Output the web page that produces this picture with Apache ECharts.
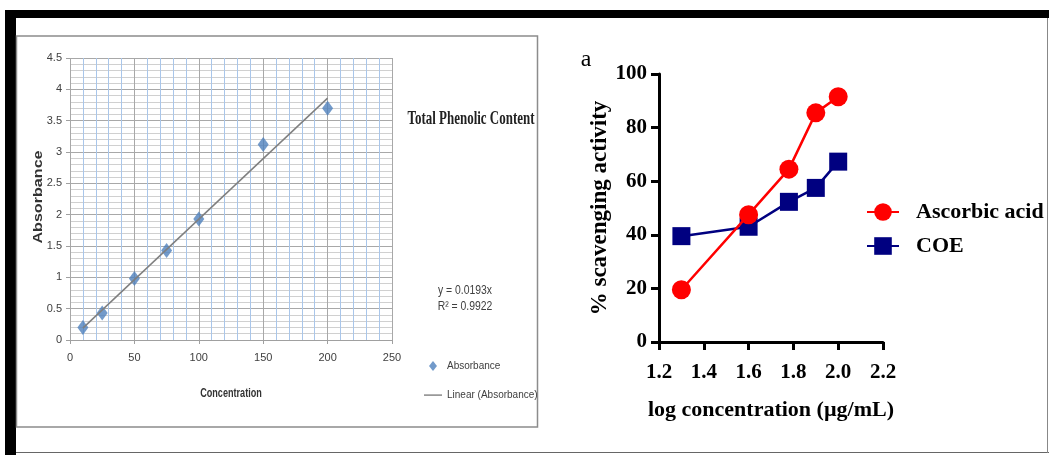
<!DOCTYPE html>
<html><head><meta charset="utf-8">
<script src="https://cdn.jsdelivr.net/npm/echarts@6/dist/echarts.min.js"></script>
<style>html,body{margin:0;padding:0;background:#fff}#c{width:1049px;height:455px}</style>
</head><body><div id="c"></div>
<script>
// Left panel: Total Phenolic Content calibration
const concentration = [10, 25, 50, 75, 100, 150, 200];
const absorbance = [0.2, 0.43, 0.98, 1.43, 1.93, 3.12, 3.7];
const trendX = [10, 200];
const trendY = [0.19, 3.86];
const leftXTicks = [0, 50, 100, 150, 200, 250];
const leftYTicks = [0, 0.5, 1, 1.5, 2, 2.5, 3, 3.5, 4, 4.5];
// Right panel: scavenging activity
const logConc = [1.3, 1.6, 1.78, 1.9, 2.0];
const ascorbic = [19.5, 47.5, 64.5, 85.5, 91.5];
const coe = [39.5, 43, 52.3, 57.5, 67.3];
const rightXTicks = [1.2, 1.4, 1.6, 1.8, 2.0, 2.2];
const rightYTicks = [0, 20, 40, 60, 80, 100];

const sans = "'Liberation Sans',Arial,sans-serif";
const serif = "'Liberation Serif','Times New Roman',serif";

const lineIcon = 'path://M0,0L0,0M0,10L0,10M0,4.4L18,4.4L18,5.8L0,5.8Z';
const diamondIcon = 'path://M0,0L0,0M18,0L18,0M9,0L13,5L9,10L5,5Z';

const chart = echarts.init(document.getElementById('c'));
chart.setOption({
  animation: false,
  backgroundColor: '#fff',
  graphic: [
    {type:'rect', shape:{x:5,y:10,width:1044,height:8}, style:{fill:'#000'}},
    {type:'rect', shape:{x:5,y:10,width:11,height:445}, style:{fill:'#000'}},
    {type:'rect', shape:{x:16,y:452,width:1033,height:1}, style:{fill:'#666'}},
    {type:'rect', shape:{x:1047,y:18,width:1,height:435}, style:{fill:'#888'}},
    {type:'rect', shape:{x:16.5,y:36,width:521,height:391}, style:{fill:'none', stroke:'#8c8c8c', lineWidth:1.5}},
    {type:'text', x:471, y:119, scaleX:0.72, style:{x:0, y:0, text:'Total Phenolic Content', font:"bold 18px "+serif, fill:'#222', align:'center', verticalAlign:'middle'}},
    {type:'text', x:465, y:290, scaleX:0.8, style:{x:0, y:0, text:'y = 0.0193x', font:"13px "+sans, fill:'#404040', align:'center', verticalAlign:'middle'}},
    {type:'text', x:465, y:306, scaleX:0.8, style:{x:0, y:0, text:'R² = 0.9922', font:"13px "+sans, fill:'#404040', align:'center', verticalAlign:'middle'}},
    {type:'text', x:38, y:197, rotation:Math.PI/2, scaleX:1.24, style:{x:0, y:0, text:'Absorbance', font:"bold 13px "+sans, fill:'#333', align:'center', verticalAlign:'middle'}},
    {type:'text', x:231, y:393, scaleX:0.7, style:{x:0, y:0, text:'Concentration', font:"bold 13px "+sans, fill:'#333', align:'center', verticalAlign:'middle'}},
    {type:'text', x:586, y:60, style:{x:0, y:0, text:'a', font:"24px "+serif, fill:'#000', align:'center', verticalAlign:'middle'}}
  ],
  legend: [
    {data:[{name:'Absorbance', icon:diamondIcon}, {name:'Linear (Absorbance)', icon:lineIcon}],
     orient:'vertical', left:419, top:356, itemGap:19, itemWidth:18, itemHeight:10,
     textStyle:{fontFamily:sans, fontSize:10, color:'#404040'}},
    {data:['Ascorbic acid','COE'], orient:'vertical', left:861, top:196, itemGap:12, itemWidth:32, itemHeight:22,
     textStyle:{fontFamily:serif, fontSize:22, fontWeight:'bold', color:'#000', padding:[0,0,0,12], lineHeight:22}}
  ],
  grid: [
    {left:70, right:657, top:58, bottom:115},
    {left:659, right:166, top:74, bottom:113}
  ],
  xAxis: [
    {gridIndex:0, type:'value', min:leftXTicks[0], max:leftXTicks[leftXTicks.length-1], interval:50,
     axisLine:{show:true, lineStyle:{color:'#a0a0a0'}}, axisTick:{show:true, length:4, lineStyle:{color:'#a0a0a0'}},
     axisLabel:{fontFamily:sans, fontSize:11, color:'#404040', margin:12},
     splitLine:{show:true, lineStyle:{color:'#a8a8a8', width:1}},
     minorTick:{show:false, splitNumber:5},
     minorSplitLine:{show:true, lineStyle:{color:'#a9c6ea', width:1}}},
    {gridIndex:1, type:'value', min:rightXTicks[0], max:rightXTicks[rightXTicks.length-1], interval:0.2,
     name:'log concentration (µg/mL)', nameLocation:'middle', nameGap:57,
     nameTextStyle:{fontFamily:serif, fontSize:22, fontWeight:'bold', color:'#000'},
     axisLine:{show:true, onZero:false, lineStyle:{color:'#000', width:3}},
     axisTick:{show:true, length:8, lineStyle:{color:'#000', width:3}},
     axisLabel:{fontFamily:serif, fontSize:21, fontWeight:'bold', color:'#000', margin:20, formatter:v=>v.toFixed(1)},
     splitLine:{show:false}}
  ],
  yAxis: [
    {gridIndex:0, type:'value', min:leftYTicks[0], max:leftYTicks[leftYTicks.length-1], interval:0.5,
     axisLine:{show:false}, axisTick:{show:true, length:4, lineStyle:{color:'#a0a0a0'}},
     axisLabel:{fontFamily:sans, fontSize:11, color:'#404040', margin:8},
     splitLine:{show:true, lineStyle:{color:'#a8a8a8', width:1}},
     minorSplitLine:{show:true, lineStyle:{color:'#d0d0d0', width:1}},
     minorTick:{show:false, splitNumber:5}},
    {gridIndex:1, type:'value', min:rightYTicks[0], max:rightYTicks[rightYTicks.length-1], interval:20,
     name:'% scavenging activity', nameLocation:'middle', nameGap:47, nameRotate:90,
     nameTextStyle:{fontFamily:serif, fontSize:23, fontWeight:'bold', color:'#000'},
     axisLine:{show:true, onZero:false, lineStyle:{color:'#000', width:3}},
     axisTick:{show:true, length:8, lineStyle:{color:'#000', width:3}},
     axisLabel:{fontFamily:serif, fontSize:21, fontWeight:'bold', color:'#000', margin:12},
     splitLine:{show:false}}
  ],
  series: [
    {name:'Linear (Absorbance)', type:'line', xAxisIndex:0, yAxisIndex:0, symbol:'none',
     data: trendX.map((x,i)=>[x, trendY[i]]), lineStyle:{color:'#7f7f7f', width:1.5}, itemStyle:{color:'#7f7f7f'}},
    {name:'Absorbance', type:'scatter', xAxisIndex:0, yAxisIndex:0, symbol:'diamond', symbolSize:[11,15],
     data: concentration.map((x,i)=>[x, absorbance[i]]), itemStyle:{color:'#4f81bd'}},
    {name:'Ascorbic acid', type:'line', xAxisIndex:1, yAxisIndex:1, symbol:'circle', symbolSize:19,
     data: logConc.map((x,i)=>[x, ascorbic[i]]), lineStyle:{color:'#ff0000', width:2.5}, itemStyle:{color:'#ff0000'}, z:3},
    {name:'COE', type:'line', xAxisIndex:1, yAxisIndex:1, symbol:'rect', symbolSize:18,
     data: logConc.map((x,i)=>[x, coe[i]]), lineStyle:{color:'#000080', width:2.5}, itemStyle:{color:'#000080'}, z:2}
  ]
});
</script></body></html>
